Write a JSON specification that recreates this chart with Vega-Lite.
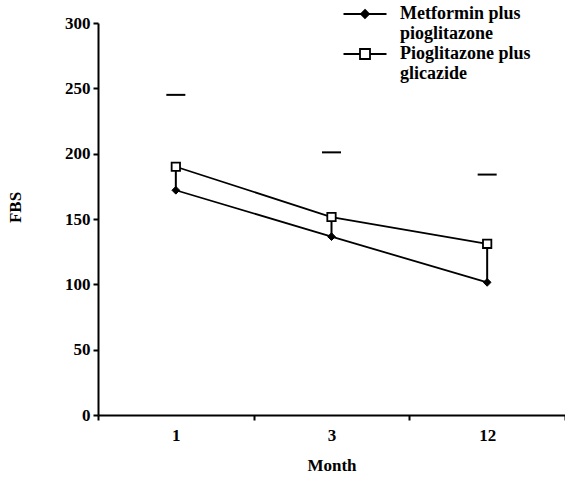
{
  "$schema": "https://vega.github.io/schema/vega-lite/v6.json",
  "autosize": {"type": "none"},
  "padding": {"left": 98, "top": 23, "right": 0, "bottom": 65},
  "width": 467,
  "height": 392,
  "background": "white",
  "config": {
    "view": {"stroke": null},
    "font": "Liberation Serif",
    "axis": {
      "domainColor": "black", "domainWidth": 2, "tickColor": "black", "tickWidth": 2,
      "labelFont": "Liberation Serif", "labelFontWeight": "bold", "labelFontSize": 17, "labelColor": "black",
      "titleFont": "Liberation Serif", "titleFontWeight": "bold", "titleFontSize": 17, "titleColor": "black",
      "grid": false
    }
  },
  "datasets": {
    "means": [
      {"month": "1", "series": "Metformin plus pioglitazone", "fbs": 172},
      {"month": "3", "series": "Metformin plus pioglitazone", "fbs": 136.5},
      {"month": "12", "series": "Metformin plus pioglitazone", "fbs": 101.5},
      {"month": "1", "series": "Pioglitazone plus glicazide", "fbs": 190},
      {"month": "3", "series": "Pioglitazone plus glicazide", "fbs": 151.5},
      {"month": "12", "series": "Pioglitazone plus glicazide", "fbs": 131}
    ],
    "caps": [
      {"month": "1", "upper": 245},
      {"month": "3", "upper": 201},
      {"month": "12", "upper": 184}
    ]
  },
  "encoding": {
    "x": {
      "field": "month", "type": "ordinal", "sort": ["1", "3", "12"],
      "scale": {"paddingInner": 0, "paddingOuter": 0},
      "axis": {"title": "Month", "labelAngle": 0, "tickBand": "extent", "tickSize": 5, "labelPadding": 7, "titleY": 42, "titleBaseline": "top", "domainWidth": 2}
    }
  },
  "layer": [
    {
      "data": {"name": "caps"},
      "mark": {"type": "tick", "orient": "horizontal", "size": 19, "thickness": 2, "color": "black", "opacity": 1},
      "encoding": {
        "y": {
          "field": "upper", "type": "quantitative",
          "scale": {"domain": [0, 300], "nice": false},
          "axis": {"title": "FBS", "values": [0, 50, 100, 150, 200, 250, 300], "tickSize": 5, "labelPadding": 3, "titleAngle": -90, "titleX": -74, "titleY": 184}
        }
      }
    },
    {
      "data": {"name": "means"},
      "transform": [
        {"pivot": "series", "value": "fbs", "groupby": ["month"]}
      ],
      "mark": {"type": "rule", "color": "black", "strokeWidth": 2},
      "encoding": {
        "y": {"field": "Metformin plus pioglitazone", "type": "quantitative"},
        "y2": {"field": "Pioglitazone plus glicazide"}
      }
    },
    {
      "data": {"name": "means"},
      "mark": {"type": "line", "color": "black", "strokeWidth": 1.8},
      "encoding": {
        "y": {"field": "fbs", "type": "quantitative"},
        "detail": {"field": "series"}
      }
    },
    {
      "data": {"name": "means"},
      "transform": [{"filter": "datum.series == 'Metformin plus pioglitazone'"}],
      "mark": {"type": "point", "shape": "diamond", "fill": "black", "stroke": "black", "strokeWidth": 1, "opacity": 1, "size": 60},
      "encoding": {
        "y": {"field": "fbs", "type": "quantitative"}
      }
    },
    {
      "data": {"name": "means"},
      "transform": [{"filter": "datum.series == 'Pioglitazone plus glicazide'"}],
      "mark": {"type": "point", "shape": "square", "fill": "white", "stroke": "black", "strokeWidth": 1.8, "opacity": 1, "size": 70},
      "encoding": {
        "y": {"field": "fbs", "type": "quantitative"}
      }
    },
    {
      "data": {"name": "means"},
      "mark": {"type": "point", "opacity": 0, "filled": true},
      "encoding": {
        "y": {"field": "fbs", "type": "quantitative"},
        "shape": {
          "field": "series", "type": "nominal",
          "scale": {"domain": ["Metformin plus pioglitazone", "Pioglitazone plus glicazide"], "range": ["M-4.3,0H4.3M0,-0.8L0.8,0L0,0.8L-0.8,0Z", "M-4.3,0H-1M1,0H4.3M-1,-1H1V1H-1Z"]},
          "legend": {
            "title": null, "orient": "none", "legendX": 258, "legendY": -18,
            "symbolSize": 100, "symbolStrokeWidth": 1.8, "symbolOpacity": 1,
            "labelFont": "Liberation Serif", "labelFontWeight": "bold", "labelFontSize": 18, "labelColor": "black",
            "labelOffset": 26, "labelLimit": 0, "labelLineHeight": 17, "rowPadding": 2,
            "labelExpr": "datum.label == 'Metformin plus pioglitazone' ? ['Metformin plus', 'pioglitazone'] : ['Pioglitazone plus', 'glicazide']"
          }
        },
        "fill": {
          "field": "series", "type": "nominal",
          "scale": {"domain": ["Metformin plus pioglitazone", "Pioglitazone plus glicazide"], "range": ["black", "white"]}
        },
        "stroke": {
          "field": "series", "type": "nominal",
          "scale": {"domain": ["Metformin plus pioglitazone", "Pioglitazone plus glicazide"], "range": ["black", "black"]}
        }
      }
    }
  ]
}
